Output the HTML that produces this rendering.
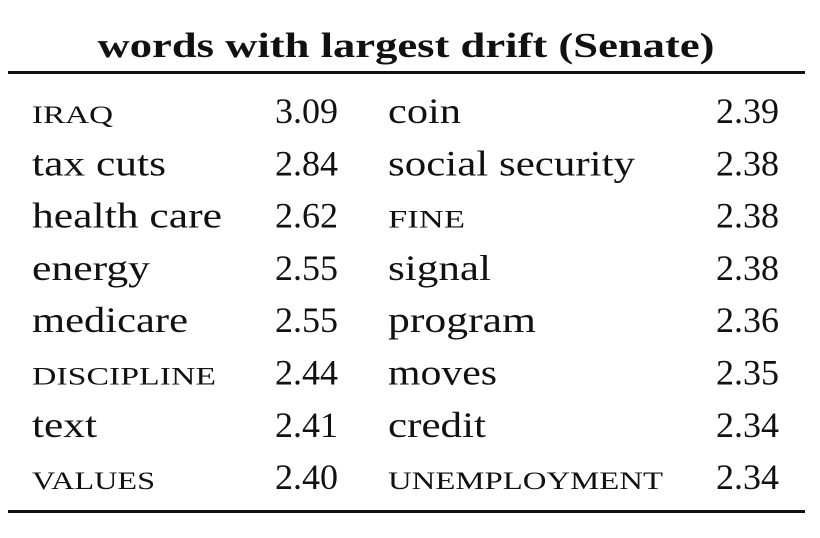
<!DOCTYPE html>
<html><head><meta charset="utf-8"><style>
html,body{margin:0;padding:0;background:#fff;}
svg{display:block;}
text{font-family:"Liberation Serif",serif;fill:#111;}
</style></head><body>
<svg width="820" height="538" viewBox="0 0 820 538">
<text x="406" y="57" text-anchor="middle" font-size="35" font-weight="bold" textLength="617" lengthAdjust="spacingAndGlyphs">words with largest drift (Senate)</text>
<rect x="8" y="71" width="797" height="3" fill="#111"/>
<rect x="8" y="510" width="797" height="3" fill="#111"/>
<g id="rows"></g>
</svg>
<script>
const words1=["iraq","tax cuts","health care","energy","medicare","discipline","text","values"];
const caps1=[1,0,0,0,0,1,0,1];
const vals1=["3.09","2.84","2.62","2.55","2.55","2.44","2.41","2.40"];
const words2=["coin","social security","fine","signal","program","moves","credit","unemployment"];
const caps2=[0,0,1,0,0,0,0,1];
const vals2=["2.39","2.38","2.38","2.38","2.36","2.35","2.34","2.34"];
const w1=[81,134,190,118,156,184,65,123];
const w2=[73,247,77,103,148,109,98,275];
const g=document.getElementById('rows');
const NS='http://www.w3.org/2000/svg';
function t(x,y,s,anchor,len,sc,name){
  const e=document.createElementNS(NS,'text');
  e.setAttribute('x',x);e.setAttribute('y',y);e.setAttribute('font-size','36');
  if(anchor)e.setAttribute('text-anchor',anchor);
  if(len){e.setAttribute('textLength',len);e.setAttribute('lengthAdjust','spacingAndGlyphs');}
  if(sc){e.style.fontVariant='small-caps';e.style.textTransform='lowercase';}
  e.textContent=s;
  
  
  g.appendChild(e);
}
for(let i=0;i<8;i++){
  const y=123+i*52.3;
  t(32,y,words1[i],null,w1[i],caps1[i],'word-left');
  t(338,y,vals1[i],'end',null,0,'value-left');
  t(388,y,words2[i],null,w2[i],caps2[i],'word-right');
  t(779,y,vals2[i],'end',null,0,'value-right');
}
</script>
</body></html>
